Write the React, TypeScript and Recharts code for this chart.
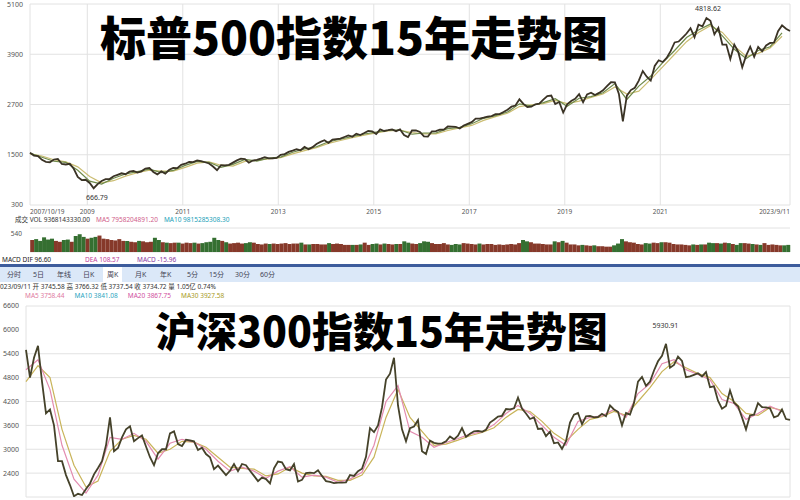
import React from 'react'
import { LineChart, Line, XAxis, YAxis, CartesianGrid, BarChart, Bar, Cell, ReferenceDot } from 'recharts'

// monthly closes, 2007/10 .. 2023/09
const spxClose = [
  1549, 1481, 1468,
  1378, 1330, 1322, 1385, 1400, 1280, 1267, 1283, 1166, 969, 896, 903,
  826, 700, 798, 873, 919, 919, 987, 1021, 1057, 1036, 1096, 1115,
  1074, 1104, 1169, 1187, 1089, 1031, 1102, 1049, 1141, 1183, 1181, 1258,
  1286, 1327, 1326, 1364, 1345, 1321, 1292, 1219, 1131, 1253, 1247, 1258,
  1312, 1366, 1408, 1398, 1310, 1362, 1379, 1406, 1441, 1412, 1416, 1426,
  1498, 1515, 1569, 1598, 1631, 1606, 1686, 1633, 1682, 1757, 1806, 1848,
  1783, 1859, 1872, 1884, 1924, 1960, 1931, 2003, 1972, 2018, 2068, 2059,
  1995, 2105, 2068, 2086, 2107, 2063, 2104, 1972, 1920, 2079, 2080, 2044,
  1940, 1932, 2060, 2065, 2097, 2099, 2174, 2171, 2168, 2126, 2199, 2239,
  2279, 2364, 2363, 2384, 2412, 2423, 2470, 2472, 2519, 2575, 2648, 2674,
  2824, 2714, 2641, 2648, 2705, 2718, 2816, 2902, 2914, 2712, 2760, 2507,
  2704, 2784, 2834, 2946, 2752, 2942, 2980, 2926, 2977, 3038, 3141, 3231,
  3226, 2954, 2300, 2912, 3044, 3100, 3271, 3500, 3363, 3270, 3622, 3756,
  3714, 3811, 3973, 4181, 4204, 4298, 4395, 4523, 4308, 4605, 4567, 4766,
  4700, 4374, 4530, 4132, 4132, 3785, 4130, 3955, 3586, 3872, 4080, 3840,
  4077, 3970, 4109, 4169, 4180, 4450, 4589, 4508, 4457,
]

// quarterly moving averages
const spxMaShort = [
  1540, 1440, 1345, 1320, 1130, 870, 800, 940, 1040, 1095, 1155, 1075, 1125, 1245, 1340, 1320,
  1200, 1270, 1390, 1350, 1420, 1445, 1560, 1640, 1690, 1810, 1870, 1940, 1995, 2040, 2085, 2090,
  1990, 2020, 2020, 2125, 2155, 2240, 2370, 2435, 2520, 2715, 2670, 2745, 2840, 2660, 2850, 2890,
  2980, 3200, 2820, 3140, 3380, 3700, 3990, 4300, 4480, 4620, 4340, 4020, 3800, 3990, 4080, 4410,
]
const spxMaLong = [
  1520, 1470, 1380, 1330, 1210, 980, 830, 880, 990, 1070, 1130, 1110, 1110, 1200, 1300, 1330,
  1250, 1230, 1340, 1370, 1400, 1430, 1520, 1600, 1670, 1770, 1840, 1910, 1970, 2020, 2070, 2085,
  2030, 2000, 2000, 2080, 2140, 2200, 2320, 2410, 2490, 2650, 2690, 2720, 2800, 2720, 2780, 2870,
  2950, 3120, 2950, 3020, 3300, 3600, 3900, 4200, 4420, 4580, 4420, 4100, 3850, 3920, 4050, 4330,
]

const spxVolume = [
  270, 290, 250,
  330, 280, 300, 250, 230, 270, 280, 230, 360, 400, 340, 300,
  320, 340, 370, 300, 290, 270, 260, 290, 250, 250, 230, 220,
  250, 240, 220, 230, 320, 270, 220, 210, 200, 210, 210, 190,
  210, 200, 210, 190, 200, 220, 230, 320, 270, 250, 220, 190,
  200, 210, 190, 200, 220, 210, 180, 170, 190, 180, 190, 180,
  190, 200, 180, 190, 190, 210, 170, 170, 180, 180, 170, 170,
  200, 180, 190, 180, 160, 160, 160, 160, 170, 210, 160, 180,
  190, 170, 190, 180, 170, 180, 180, 240, 210, 190, 180, 200,
  240, 230, 200, 180, 180, 200, 170, 160, 180, 170, 200, 190,
  180, 170, 190, 170, 180, 180, 160, 170, 160, 170, 180, 170,
  200, 270, 240, 220, 190, 190, 180, 170, 170, 240, 220, 250,
  210, 170, 170, 150, 160, 150, 140, 150, 130, 130, 120, 120,
  150, 190, 290, 240, 220, 210, 180, 170, 200, 190, 210, 200,
  220, 220, 210, 180, 170, 170, 160, 150, 170, 160, 170, 170,
  210, 200, 200, 190, 210, 200, 180, 160, 200, 200, 190, 180,
  170, 160, 200, 160, 170, 160, 150, 150, 160,
]

const csiClose = [
  5500, 4800, 5300,
  5600, 4700, 3900, 4000, 3600, 2700, 2700, 2350, 2100, 1820, 1880, 1850,
  2000, 2140, 2370, 2530, 2700, 3100, 3800, 2950, 3030, 3300, 3500, 3575,
  3200, 3280, 3350, 3070, 2800, 2600, 2900, 3000, 3000, 3400, 3450, 3130,
  3080, 3240, 3220, 3200, 2980, 3040, 2880, 2800, 2500, 2590, 2470, 2350,
  2460, 2630, 2450, 2630, 2600, 2460, 2330, 2200, 2290, 2250, 2140, 2520,
  2690, 2670, 2500, 2470, 2630, 2190, 2230, 2400, 2410, 2400, 2470, 2330,
  2200, 2180, 2150, 2160, 2160, 2170, 2350, 2330, 2450, 2510, 2810, 3530,
  3430, 3600, 4050, 4750, 4900, 5300, 4100, 3500, 3200, 3530, 3570, 3730,
  2950, 2880, 3220, 3160, 3140, 3150, 3200, 3320, 3250, 3340, 3530, 3310,
  3390, 3450, 3460, 3440, 3490, 3670, 3740, 3820, 3840, 4010, 4000, 4030,
  4300, 4020, 3900, 3760, 3800, 3510, 3520, 3330, 3440, 3150, 3170, 3010,
  3200, 3670, 3870, 3910, 3630, 3830, 3840, 3800, 3810, 3890, 3830, 4100,
  4000, 3940, 3600, 3910, 3870, 4160, 4700, 4820, 4590, 4700, 4980, 5210,
  5350, 5650, 5050, 5120, 5330, 5220, 4810, 4830, 4870, 4910, 4830, 4940,
  4560, 4580, 4220, 4020, 4090, 4480, 4170, 4080, 3800, 3500, 3850, 3870,
  4160, 4060, 4050, 4030, 3800, 3840, 4000, 3760, 3740,
]

const csiMaShort = [
  5000, 5250, 4500, 3100, 2250, 1900, 2350, 3300, 3250, 3400, 3200, 2750, 3150, 3250, 3180, 3000,
  2700, 2450, 2550, 2450, 2270, 2450, 2560, 2300, 2350, 2300, 2170, 2250, 2420, 3100, 4200, 4600,
  3450, 3300, 3050, 3170, 3270, 3380, 3440, 3620, 3900, 4100, 3900, 3600, 3300, 3100, 3700, 3800,
  3840, 4000, 3800, 4400, 4650, 5150, 5250, 5000, 4880, 4750, 4250, 4150, 3750, 3900, 4080, 3950,
]
const csiMaLong = [
  4700, 5100, 4800, 3500, 2600, 2050, 2200, 2950, 3250, 3350, 3250, 2900, 3000, 3200, 3180, 3050,
  2800, 2550, 2520, 2500, 2330, 2380, 2550, 2400, 2330, 2320, 2220, 2220, 2350, 2800, 3800, 4500,
  3800, 3450, 3100, 3130, 3230, 3340, 3420, 3540, 3800, 4000, 3950, 3700, 3400, 3200, 3500, 3750,
  3820, 3950, 3850, 4200, 4550, 4950, 5200, 5050, 4900, 4800, 4400, 4200, 3900, 3850, 4050, 3980,
]

const spxTicks = [300, 1500, 2700, 3900, 5100]
const spxPct = ['-80%', '0%', '80%', '160%', '240%']
const volTicks = [0, 540]
const csiTicks = [1800, 2400, 3000, 3600, 4200, 4800, 5400, 6000, 6600]
const csiPct = ['-68%', '-57%', '-47%', '-36%', '-25%', '-15%', '-4%', '7%', '18%']
const yearTicks = [2009, 2011, 2013, 2015, 2017, 2019, 2021]
const firstLabel = '2007/10/19'
const lastLabel = '2023/9/11'
const tabs = ['分时', '5日', '年线', '日K', '周K', '月K', '年K', '5分', '15分', '30分', '60分']
const tabX = [7, 33, 57, 83, 107, 135, 160, 187, 209, 235, 260]

const START = 2007.8
const END = START + (spxClose.length - 1) / 12

const spxRows = spxClose.map((c, i) => ({ t: START + i / 12, c }))
const spxShortRows = spxMaShort.map((v, i) => ({ t: START + i / 4, v }))
const spxLongRows = spxMaLong.map((v, i) => ({ t: START + i / 4, v }))
const volRows = spxVolume.map((v, i) => ({ i, v, up: i === 0 || spxClose[i] >= spxClose[i - 1] }))
const csiRows = csiClose.map((c, i) => ({ t: START + i / 12, c }))
const csiShortRows = csiMaShort.map((v, i) => ({ t: START + i / 4, v }))
const csiLongRows = csiMaLong.map((v, i) => ({ t: START + i / 4, v }))

const FONT = '"Noto Sans", "Noto Sans CJK SC", sans-serif'
const GRID = '#e2e2e2'
const LABEL = '#555'

const YearTick = (props: any) => {
  const { x, y, payload } = props
  const v = payload.value
  const first = v < 2008
  const last = v > 2023
  const text = first ? firstLabel : last ? lastLabel : String(Math.round(v))
  return (
    <text x={x} y={y} dy={1} fontSize={6.5} fill={LABEL} fontFamily={FONT}
      textAnchor={first ? 'start' : last ? 'end' : 'middle'}>
      {text}
    </text>
  )
}

// volume axis labels sit just inside the panel
const VolTick = (props: any) => {
  const { x, y, payload } = props
  return (
    <text x={x} y={y} dy={payload.value > 0 ? 5 : 1} fontSize={6.5} fill={LABEL} fontFamily={FONT} textAnchor="end">
      {payload.value}
    </text>
  )
}

const small = (color: string): React.CSSProperties => ({ color, fontSize: 6.5, whiteSpace: 'nowrap', lineHeight: '8px' })

export default function App() {
  return (
    <div style={{ position: 'fixed', left: 0, top: 0, width: 800, height: 500, background: '#fff', overflow: 'hidden', fontFamily: FONT }}>
      {/* S&P 500 */}
      <div style={{ position: 'absolute', left: 0, top: 0 }}>
        <LineChart width={800} height={220} data={spxRows} margin={{ top: 4, right: 10, left: 0, bottom: 1 }}>
          <CartesianGrid stroke={GRID} />
          <XAxis dataKey="t" type="number" domain={[START, END]} ticks={[START, ...yearTicks, END]}
            tick={<YearTick />} tickLine={false} axisLine={false} height={14} interval={0} />
          <YAxis domain={[300, 5100]} ticks={spxTicks} width={30} tickLine={false} axisLine={false}
            tickMargin={1} tick={{ fontSize: 7, fill: LABEL }} />
          <YAxis yAxisId="r" orientation="right" mirror domain={[300, 5100]} ticks={spxTicks} width={0}
            tickLine={false} axisLine={false} tickMargin={0}
            tickFormatter={(v: number) => spxPct[spxTicks.indexOf(v)]} tick={{ fontSize: 7, fill: LABEL }} />
          <Line data={spxLongRows} dataKey="v" yAxisId="r" stroke="#cbbd72" strokeWidth={1.2} dot={false} isAnimationActive={false} />
          <Line data={spxShortRows} dataKey="v" stroke="#6f8a4a" strokeWidth={1.2} dot={false} isAnimationActive={false} />
          <Line dataKey="c" stroke="#3a3325" strokeWidth={1.8} dot={false} isAnimationActive={false} />
          <ReferenceDot x={2022.0} y={4818.62} r={0}
            label={{ value: '4818.62', position: 'top', fontSize: 7, fill: '#333' }} />
          <ReferenceDot x={2009.2} y={666.79} r={0}
            label={{ value: '666.79', position: 'bottom', fontSize: 7, fill: '#333' }} />
        </LineChart>
      </div>
      <div style={{ position: 'absolute', left: 100, top: 12, fontSize: 46, fontWeight: 900, lineHeight: 1, color: '#000', fontFamily: '"Noto Sans CJK SC", sans-serif', whiteSpace: 'nowrap' }}>
        标普500指数15年走势图
      </div>

      {/* volume */}
      <div style={{ position: 'absolute', left: 15, top: 216, display: 'flex', gap: 6 }}>
        <span style={small('#333')}>成交 VOL 9368143330.00</span>
        <span style={small('#d0608a')}>MA5 7958204891.20</span>
        <span style={small('#1c9fb8')}>MA10 9815285308.30</span>
      </div>
      <div style={{ position: 'absolute', left: 0, top: 222 }}>
        <BarChart width={800} height={40} data={volRows} margin={{ top: 6, right: 10, left: 0, bottom: 10 }} barCategoryGap="5%">
          <CartesianGrid stroke={GRID} vertical={false} />
          <XAxis dataKey="i" hide />
          <YAxis domain={[0, 540]} ticks={volTicks} width={30} tickLine={false} axisLine={false}
            tickMargin={2} tick={<VolTick />} />
          <Bar dataKey="v" isAnimationActive={false}>
            {volRows.map((r) => (
              <Cell key={r.i} fill={r.up ? '#86392a' : '#356f31'} />
            ))}
          </Bar>
        </BarChart>
      </div>
      <div style={{ position: 'absolute', left: 2, top: 256, display: 'flex' }}>
        <span style={{ ...small('#222'), width: 83 }}>MACD  DIF 96.60</span>
        <span style={{ ...small('#c0409a'), width: 52 }}>DEA 108.57</span>
        <span style={small('#8a3aa0')}>MACD -15.96</span>
      </div>

      {/* tab bar */}
      <div style={{ position: 'absolute', left: 0, top: 264, width: 800, height: 3, background: '#3d5c9c' }} />
      <div style={{ position: 'absolute', left: 0, top: 267, width: 800, height: 15, background: '#dbe8f8' }} />
      {tabs.map((t, i) => (
        <div key={t} style={{ position: 'absolute', left: tabX[i] - (i === 4 ? 4 : 0), top: 267, height: 15, padding: i === 4 ? '0 4px' : 0, background: i === 4 ? '#fff' : 'transparent', ...small('#445'), fontSize: 7, lineHeight: '15px' }}>
          {t}
        </div>
      ))}
      <div style={{ position: 'absolute', left: 0, top: 283, ...small('#333') }}>
        023/09/11 开 3745.58 高 3766.32 低 3737.54 收 3734.72 量 1.05亿 0.74%
      </div>
      <div style={{ position: 'absolute', left: 25, top: 292, display: 'flex', gap: 10 }}>
        <span style={small('#e07aa0')}>MA5 3758.44</span>
        <span style={small('#2aa5c0')}>MA10 3841.08</span>
        <span style={small('#d050a0')}>MA20 3867.75</span>
        <span style={small('#a89a1c')}>MA30 3927.58</span>
      </div>

      {/* CSI 300 */}
      <div style={{ position: 'absolute', left: 0, top: 300 }}>
        <LineChart width={800} height={200} data={csiRows} margin={{ top: 6, right: 10, left: 0, bottom: 2 }}>
          <CartesianGrid stroke={GRID} />
          <XAxis dataKey="t" type="number" domain={[START, END]} ticks={[START, ...yearTicks, END]}
            tick={false} tickLine={false} axisLine={false} height={1} interval={0} />
          <YAxis domain={[1800, 6600]} ticks={csiTicks} width={26} tickLine={false} axisLine={false}
            tickMargin={1} tick={{ fontSize: 7, fill: LABEL }} allowDataOverflow />
          <YAxis yAxisId="r" orientation="right" mirror domain={[1800, 6600]} ticks={csiTicks} width={0}
            tickLine={false} axisLine={false} tickMargin={0} allowDataOverflow
            tickFormatter={(v: number) => csiPct[csiTicks.indexOf(v)]} tick={{ fontSize: 7, fill: LABEL }} />
          <Line data={csiLongRows} dataKey="v" yAxisId="r" stroke="#c9b45a" strokeWidth={1.2} dot={false} isAnimationActive={false} />
          <Line data={csiShortRows} dataKey="v" stroke="#e38cb0" strokeWidth={1.2} dot={false} isAnimationActive={false} />
          <Line dataKey="c" stroke="#45422a" strokeWidth={1.8} dot={false} isAnimationActive={false} />
          <ReferenceDot x={2021.12} y={5930.91} r={0}
            label={{ value: '5930.91', position: 'top', fontSize: 7, fill: '#333' }} />
        </LineChart>
      </div>
      <div style={{ position: 'absolute', left: 155, top: 309, fontSize: 41, fontWeight: 900, lineHeight: 1, color: '#000', fontFamily: '"Noto Sans CJK SC", sans-serif', whiteSpace: 'nowrap' }}>
        沪深300指数15年走势图
      </div>
    </div>
  )
}
